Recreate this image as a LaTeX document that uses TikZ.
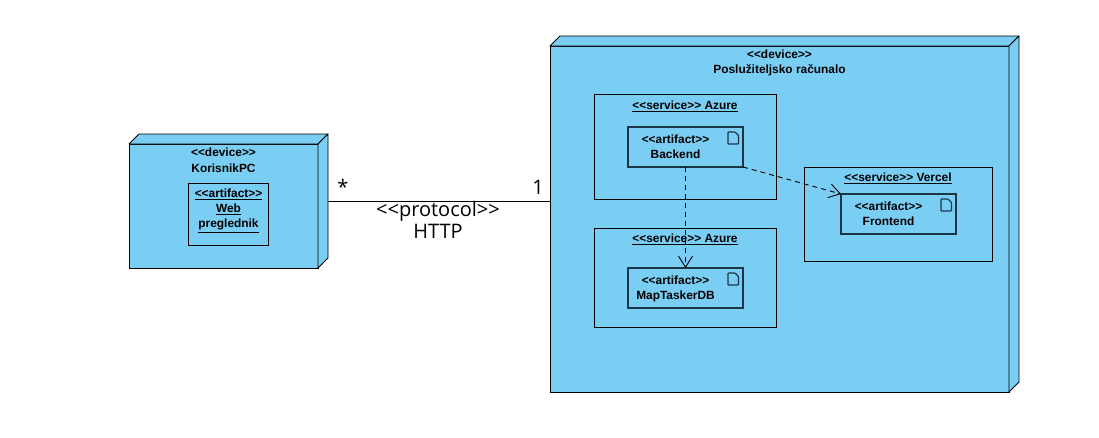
\documentclass[tikz,border=0pt]{standalone}
\usepackage{xcolor}
\usepackage{fontspec}
\setmainfont{Liberation Sans}
\newfontfamily\labelfont{Open Sans}
\usetikzlibrary{arrows.meta,positioning}
\definecolor{deviceblue}{HTML}{7ACEF4}
\definecolor{artifactline}{HTML}{1B3545}

\newcommand{\devicedepth}[1]{
  \draw[depthface] (#1.north west) -- ++(10,-10) -- ([shift={(10,-10)}]#1.north east) -- (#1.north east) -- cycle;
  \draw[depthface] (#1.north east) -- ++(10,-10) -- ([shift={(10,-10)}]#1.south east) -- (#1.south east) -- cycle;
}
\newcommand{\fileicon}[1]{
  \draw[iconline] ([xshift=-15pt,yshift=-5pt]#1.north east) -- ++(7,0) -- ++(3.5,3.5) -- ++(0,8.5) -- ++(-10.5,0) -- cycle;
}

\begin{document}
\begin{tikzpicture}[
  x=1pt, y=-1pt,
  device/.style={draw, line width=0.9pt, fill=deviceblue, anchor=north west, outer sep=0pt},
  depthface/.style={draw, line width=0.9pt, fill=deviceblue, line join=round},
  service/.style={draw, line width=0.8pt, anchor=north west, outer sep=0pt},
  artifact/.style={draw=artifactline, line width=1.3pt, anchor=north west, outer sep=0pt, minimum width=115pt, minimum height=40pt},
  iconline/.style={draw=artifactline, line width=1.1pt, rounded corners=0.6pt},
  title/.style={font=\bfseries\fontsize{11.9}{15}\selectfont, align=center, inner sep=0pt},
  linktext/.style={font=\labelfont\fontsize{20}{22}\selectfont, align=center, inner sep=0pt},
  depend/.style={dash pattern=on 5pt off 4pt, line width=0.9pt, -{Straight Barb[length=11pt, width=14pt, line width=0.9pt]}}
]
\useasboundingbox (0,0) rectangle (1099,437);

% devices
\node[device, minimum width=189pt, minimum height=124pt] (korisnik) at (129,144) {};
\devicedepth{korisnik}
\node[device, minimum width=459pt, minimum height=346pt] (server) at (550,46) {};
\devicedepth{server}
\node[title, below=4pt of korisnik.north] (korisnikname) {<{}<device>{}>\\[1pt]KorisnikPC};
\node[title, below=3.5pt of server.north] (servername) {<{}<device>{}>\\Poslužiteljsko računalo};

% browser
\node[draw, line width=0.9pt, anchor=north west, outer sep=0pt, minimum width=80pt, minimum height=62pt] (browser) at (188.5,183) {};
\node[title, below=6pt of browser.north] (browsername) {\underline{<{}<artifact>{}>}\\\underline{Web}\\\underline{preglednik}};

% services
\node[service, minimum width=182pt, minimum height=105pt] (azuretop) at (594,94.5) {};
\node[service, minimum width=182pt, minimum height=99pt] (azurebottom) at (594,228) {};
\node[service, minimum width=188pt, minimum height=94pt] (vercel) at (804,167) {};
\node[title, below=6pt of azuretop.north] (azuretopname) {\underline{<{}<service>{}> Azure}};
\node[title, below=6pt of azurebottom.north] (azurebottomname) {\underline{<{}<service>{}> Azure}};
\node[title, below=6pt of vercel.north] (vercelname) {\underline{<{}<service>{}> Vercel}};

% artifacts
\node[artifact] (backend) at (628,127) {};
\node[artifact] (database) at (628,268) {};
\node[artifact] (frontend) at (841,194) {};
\foreach \artifactname in {backend,database,frontend}{
  \fileicon{\artifactname}
}
\node[title, below=7.5pt of backend.north, xshift=-10pt] (backendname) {<{}<artifact>{}>\\Backend};
\node[title, below=7.5pt of database.north, xshift=-10pt] (databasename) {<{}<artifact>{}>\\MapTaskerDB};
\node[title, below=7.5pt of frontend.north, xshift=-10pt] (frontendname) {<{}<artifact>{}>\\Frontend};

% connectors
\draw[line width=1pt] ([xshift=10pt,yshift=4.5pt]korisnik.east) -- ([yshift=17.5pt]server.west);
\draw[depend] (backend) -- (database);
\draw[depend] (backend.south east) -- (frontend.north west);

\node[linktext] (many) at (343,187) {*};
\node[linktext] (one) at (538,187) {1};
\node[linktext] (protocol) at (438,220) {<{}<protocol>{}>\\HTTP};
\end{tikzpicture}
\end{document}
